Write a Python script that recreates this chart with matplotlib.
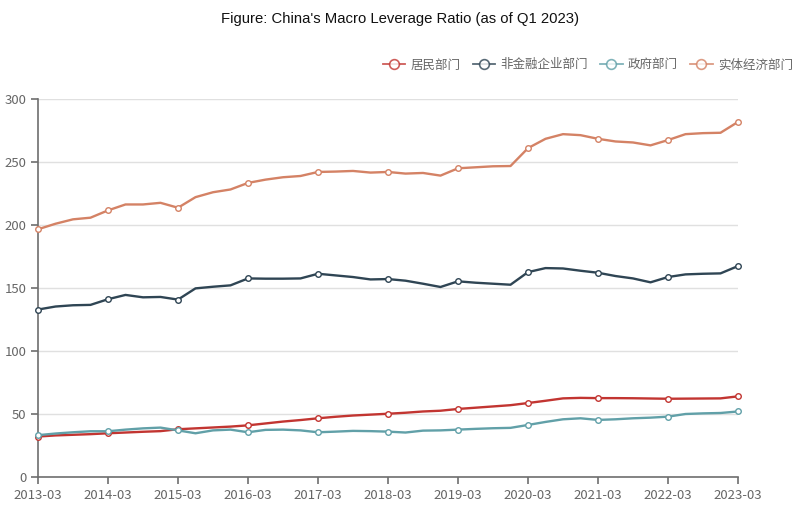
import numpy as np
import matplotlib.pyplot as plt
from matplotlib.lines import Line2D

plt.rcParams['font.family'] = ['Noto Sans CJK SC', 'DejaVu Sans']

# quarterly data, 2013-03 .. 2023-03
years = [str(y) + "-03" for y in range(2013, 2024)]

household = [32.1, 33.0, 33.5, 34.0, 34.7, 35.3, 35.9, 36.4, 37.9, 38.6, 39.3, 40.0,
             41.0, 42.5, 44.0, 45.2, 46.6, 47.8, 48.8, 49.5, 50.2, 51.0, 52.0, 52.6,
             54.0, 55.0, 56.0, 57.0, 58.7, 60.5, 62.4, 62.8, 62.6, 62.6, 62.5, 62.3,
             62.1, 62.2, 62.3, 62.4, 64.0]
corporate = [132.9, 135.3, 136.3, 136.6, 141.1, 144.5, 142.6, 142.9, 140.8, 149.7, 151.0, 152.1,
             157.6, 157.4, 157.4, 157.6, 161.3, 160.0, 158.7, 156.8, 157.1, 155.8, 153.4, 150.8,
             155.3, 154.2, 153.4, 152.6, 162.6, 165.8, 165.5, 163.7, 162.1, 159.5, 157.6, 154.5,
             158.7, 160.8, 161.3, 161.6, 167.4]
government = [33.2, 34.5, 35.5, 36.3, 36.3, 37.6, 38.6, 39.2, 37.0, 34.7, 37.0, 37.6,
              35.5, 37.4, 37.6, 37.0, 35.5, 36.0, 36.6, 36.4, 36.0, 35.3, 36.8, 37.0,
              37.6, 38.2, 38.7, 39.0, 41.3, 43.7, 45.8, 46.6, 45.3, 45.8, 46.6, 47.1,
              47.9, 50.0, 50.5, 50.8, 52.0]
real_economy = [196.6, 201.0, 204.5, 205.8, 211.6, 216.3, 216.3, 217.6, 213.7, 222.1, 226.0, 228.2,
                233.4, 236.0, 237.9, 238.9, 242.1, 242.4, 242.9, 241.6, 242.1, 240.8, 241.3, 239.2,
                245.0, 245.8, 246.6, 246.8, 261.0, 268.4, 272.1, 271.3, 268.4, 266.3, 265.5, 263.2,
                267.4, 272.1, 272.9, 273.2, 281.8]

names = ["居民部门", "非金融企业部门", "政府部门", "实体经济部门"]
colors = ["#c23531", "#2f4554", "#61a0a8", "#d48265"]
series = [household, corporate, government, real_economy]

x = np.arange(len(household))

fig = plt.figure(figsize=(8, 5.07), dpi=100)
ax = fig.add_axes([38 / 800, 30 / 507, 700 / 800, 378 / 507])

handles = []
for vals, c, n in zip(series, colors, names):
    ax.plot(x, vals, color=c, lw=1.7, marker="o", markevery=4, ms=4,
            mfc="white", mec=c, mew=1.0, zorder=3, clip_on=False)
    handles.append(Line2D([], [], color=c, lw=1.3, marker="o", ms=7,
                          mfc="white", mec=c, mew=1.2, alpha=0.8, label=n))

ax.set_xlim(0, 40)
ax.set_ylim(0, 300)
ax.set_yticks(range(0, 301, 50))
ax.set_xticks(x[::4])
ax.set_xticklabels(years)
ax.grid(axis="y", color="#e0e0e0", lw=1)
ax.set_axisbelow(True)
for s in ["top", "right"]:
    ax.spines[s].set_visible(False)
for s in ["left", "bottom"]:
    ax.spines[s].set_color("#6e6e6e")
    ax.spines[s].set_linewidth(1.2)
ax.tick_params(colors="#6e6e6e", labelcolor="#666666", labelsize=9.5, length=5, width=1.2)

fig.text(0.5, 0.962, "Figure: China's Macro Leverage Ratio (as of Q1 2023)",
         ha="center", va="center", fontsize=10.7, family="Liberation Sans", color="#111111")

fig.legend(handles=handles, loc="center right", bbox_to_anchor=(1.005, 0.872), ncol=4,
           frameon=False, fontsize=9, labelcolor="#666666", handlelength=1.8,
           handletextpad=0.4, columnspacing=1.0)

fig.savefig("out.png", dpi=100)
